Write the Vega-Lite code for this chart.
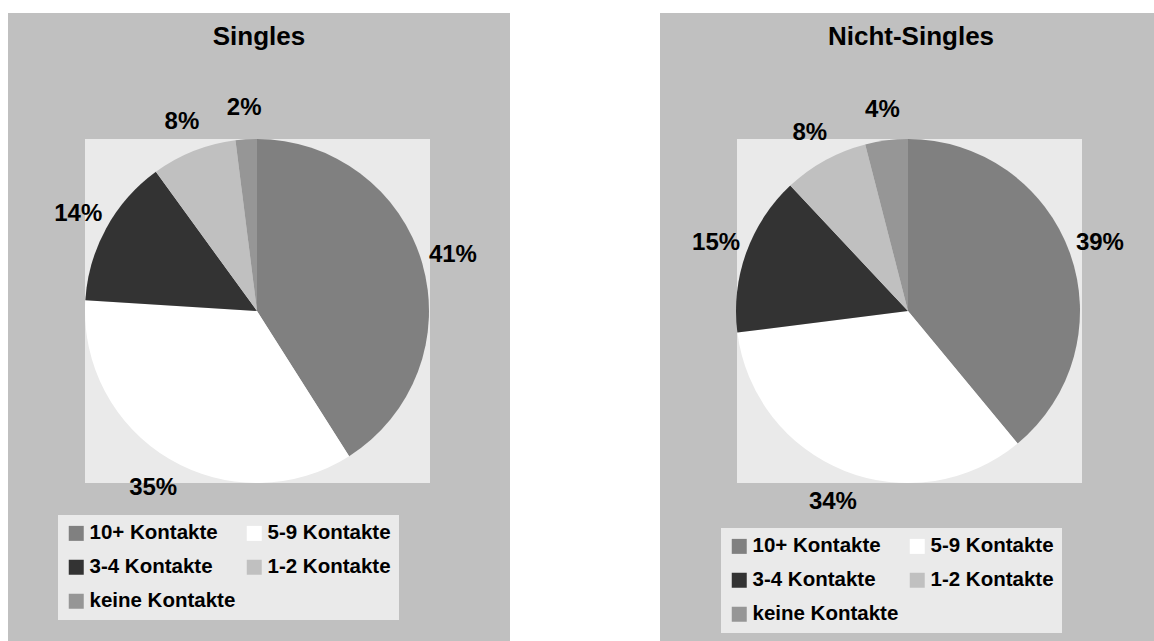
{
  "$schema": "https://vega.github.io/schema/vega-lite/v6.json",
  "background": "#ffffff",
  "padding": {"left": 8, "top": 13, "right": 0, "bottom": 0},
  "autosize": {"type": "pad"},
  "spacing": 150,
  "datasets": {
    "singles": [
      {"kategorie": "10+ Kontakte", "nr": 1, "anteil": 0.41},
      {"kategorie": "5-9 Kontakte", "nr": 2, "anteil": 0.35},
      {"kategorie": "3-4 Kontakte", "nr": 3, "anteil": 0.14},
      {"kategorie": "1-2 Kontakte", "nr": 4, "anteil": 0.08},
      {"kategorie": "keine Kontakte", "nr": 5, "anteil": 0.02}
    ],
    "nichtsingles": [
      {"kategorie": "10+ Kontakte", "nr": 1, "anteil": 0.39},
      {"kategorie": "5-9 Kontakte", "nr": 2, "anteil": 0.34},
      {"kategorie": "3-4 Kontakte", "nr": 3, "anteil": 0.15},
      {"kategorie": "1-2 Kontakte", "nr": 4, "anteil": 0.08},
      {"kategorie": "keine Kontakte", "nr": 5, "anteil": 0.04}
    ]
  },
  "config": {
    "view": {"fill": "#c0c0c0", "stroke": null},
    "font": "Liberation Sans"
  },
  "resolve": {
    "scale": {"color": "independent", "theta": "independent"},
    "legend": {"color": "independent"}
  },
  "hconcat": [
    {
      "width": 502,
      "height": 628,
      "view": {"fill": "#c0c0c0", "stroke": null},
      "layer": [
        {
          "data": {"values": [{}]},
          "mark": {"type": "rect", "color": "#eaeaea"},
          "encoding": {"x": {"value": 77}, "x2": {"value": 422}, "y": {"value": 126}, "y2": {"value": 470}}
        },
        {
          "data": {"values": [{"titel": "Singles"}]},
          "mark": {"type": "text", "x": 251, "y": 32, "fontSize": 26, "fontWeight": "bold", "baseline": "alphabetic", "align": "center", "color": "#000000"},
          "encoding": {"text": {"field": "titel", "type": "nominal"}}
        },
        {
          "data": {"name": "singles"},
          "mark": {"type": "arc", "radius": 172, "x": 249, "y": 298},
          "encoding": {
            "theta": {"field": "anteil", "type": "quantitative", "stack": true},
            "order": {"field": "nr", "type": "quantitative"},
            "color": {
              "field": "kategorie",
              "type": "nominal",
              "sort": ["10+ Kontakte", "3-4 Kontakte", "keine Kontakte", "5-9 Kontakte", "1-2 Kontakte"],
              "scale": {
                "domain": ["10+ Kontakte", "3-4 Kontakte", "keine Kontakte", "5-9 Kontakte", "1-2 Kontakte"],
                "range": ["#808080", "#333333", "#969696", "#ffffff", "#c0c0c0"]
              },
              "legend": {
                "orient": "none", "legendX": 50, "legendY": 502, "columns": 2, "title": null,
                "symbolType": "square", "symbolSize": 225, "symbolStrokeWidth": 0, "symbolOpacity": 1,
                "labelFontSize": 20.5, "labelFontWeight": "bold", "labelFont": "Liberation Sans", "labelColor": "#000000",
                "labelOffset": 3, "labelLimit": 300, "fillColor": "#eaeaea", "padding": 8,
                "rowPadding": 13, "columnPadding": 8, "gridAlign": "all"
              }
            }
          }
        },
        {
          "data": {"name": "singles"},
          "mark": {"type": "text", "radius": 204, "x": 249, "y": 298, "dy": 1, "fontSize": 24, "fontWeight": "bold", "color": "#000000", "align": "center", "baseline": "middle"},
          "encoding": {
            "theta": {"field": "anteil", "type": "quantitative", "stack": true},
            "order": {"field": "nr", "type": "quantitative"},
            "text": {"field": "anteil", "type": "quantitative", "format": ".0%"}
          }
        }
      ]
    },
    {
      "width": 494,
      "height": 628,
      "view": {"fill": "#c0c0c0", "stroke": null},
      "layer": [
        {
          "data": {"values": [{}]},
          "mark": {"type": "rect", "color": "#eaeaea"},
          "encoding": {"x": {"value": 77}, "x2": {"value": 422}, "y": {"value": 126}, "y2": {"value": 470}}
        },
        {
          "data": {"values": [{"titel": "Nicht-Singles"}]},
          "mark": {"type": "text", "x": 251, "y": 32, "fontSize": 26, "fontWeight": "bold", "baseline": "alphabetic", "align": "center", "color": "#000000"},
          "encoding": {"text": {"field": "titel", "type": "nominal"}}
        },
        {
          "data": {"name": "nichtsingles"},
          "mark": {"type": "arc", "radius": 172, "x": 248, "y": 298},
          "encoding": {
            "theta": {"field": "anteil", "type": "quantitative", "stack": true},
            "order": {"field": "nr", "type": "quantitative"},
            "color": {
              "field": "kategorie",
              "type": "nominal",
              "sort": ["10+ Kontakte", "3-4 Kontakte", "keine Kontakte", "5-9 Kontakte", "1-2 Kontakte"],
              "scale": {
                "domain": ["10+ Kontakte", "3-4 Kontakte", "keine Kontakte", "5-9 Kontakte", "1-2 Kontakte"],
                "range": ["#808080", "#333333", "#969696", "#ffffff", "#c0c0c0"]
              },
              "legend": {
                "orient": "none", "legendX": 61, "legendY": 515, "columns": 2, "title": null,
                "symbolType": "square", "symbolSize": 225, "symbolStrokeWidth": 0, "symbolOpacity": 1,
                "labelFontSize": 20.5, "labelFontWeight": "bold", "labelFont": "Liberation Sans", "labelColor": "#000000",
                "labelOffset": 3, "labelLimit": 300, "fillColor": "#eaeaea", "padding": 8,
                "rowPadding": 13, "columnPadding": 8, "gridAlign": "all"
              }
            }
          }
        },
        {
          "data": {"name": "nichtsingles"},
          "mark": {"type": "text", "radius": 204, "x": 248, "y": 298, "dy": 1, "fontSize": 24, "fontWeight": "bold", "color": "#000000", "align": "center", "baseline": "middle"},
          "encoding": {
            "theta": {"field": "anteil", "type": "quantitative", "stack": true},
            "order": {"field": "nr", "type": "quantitative"},
            "text": {"field": "anteil", "type": "quantitative", "format": ".0%"}
          }
        }
      ]
    }
  ]
}
